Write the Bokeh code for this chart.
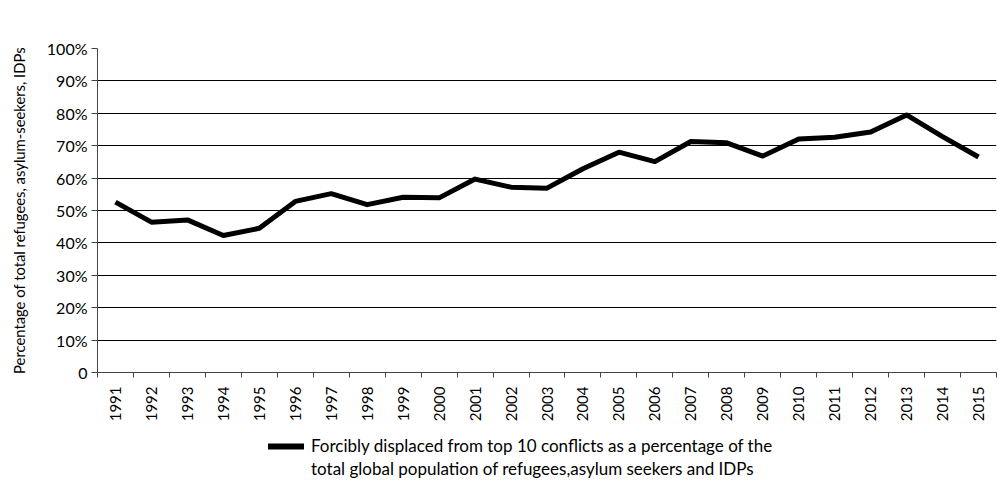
from bokeh.plotting import figure
from bokeh.layouts import column
from bokeh.models import Range1d, FixedTicker, PrintfTickFormatter, Legend, LegendItem
from bokeh.embed import file_html
from bokeh.resources import INLINE

years = list(range(1991, 2016))
year_labels = [str(y) for y in years]
share_pct = [52.6, 46.4, 47.1, 42.3, 44.5, 52.8, 55.2, 51.8, 54.1, 53.9,
             59.7, 57.2, 56.9, 62.9, 68.0, 65.1, 71.3, 70.9, 66.8, 72.1,
             72.6, 74.2, 79.5, 72.8, 66.5]
y_ticks = [0, 10, 20, 30, 40, 50, 60, 70, 80, 90, 100]
series_label_1 = "Forcibly displaced from top 10 conflicts as a percentage of the"
series_label_2 = "total global population of refugees,asylum seekers and IDPs"
y_title = "Percentage of total refugees, asylum-seekers, IDPs"

FONT = "Lato"

p = figure(width=999, height=424, output_backend="svg", toolbar_location=None,
           x_range=Range1d(years[0] - 0.5, years[-1] + 0.5),
           y_range=Range1d(0, 100),
           min_border_left=97, min_border_right=3, min_border_top=48,
           min_border_bottom=52)
p.outline_line_color = None
p.background_fill_color = "white"

r = p.line(years, share_pct, line_color="black", line_width=5, line_join="round")

# x axis: labels at category centres, tick marks at boundaries
xa = p.xaxis[0]
xa.ticker = FixedTicker(ticks=years, minor_ticks=[y - 0.5 for y in years] + [years[-1] + 0.5])
xa.major_label_overrides = {y: s for y, s in zip(years, year_labels)}
xa.major_tick_out = 0
xa.major_tick_in = 0
xa.minor_tick_out = 5
xa.minor_tick_in = 0
xa.minor_tick_line_color = "#444444"
xa.axis_line_color = "#444444"
xa.major_label_orientation = 1.5708
xa.major_label_text_font = FONT
xa.major_label_text_font_size = "15px"
xa.major_label_text_color = "black"
xa.major_label_standoff = 9

ya = p.yaxis[0]
ya.ticker = FixedTicker(ticks=y_ticks, minor_ticks=[])
ya.formatter = PrintfTickFormatter(format="%d%%")
ya.major_label_overrides = {0: "0"}
ya.major_tick_out = 6
ya.major_tick_in = 0
ya.major_tick_line_color = "#444444"
ya.axis_line_color = "#444444"
ya.major_label_text_font = FONT
ya.major_label_text_font_size = "16px"
ya.major_label_text_color = "black"
ya.major_label_standoff = 4
ya.axis_label = y_title
ya.axis_label_text_font = FONT
ya.axis_label_text_font_size = "14.8px"
ya.axis_label_text_font_style = "normal"
ya.axis_label_text_color = "black"
ya.axis_label_standoff = 16

p.xgrid.grid_line_color = None
p.ygrid.ticker = FixedTicker(ticks=y_ticks[1:])
p.ygrid.grid_line_color = "black"
p.ygrid.grid_line_width = 1

# legend strip below the chart (its data lies outside its empty view)
lg = figure(width=999, height=59, output_backend="svg", toolbar_location=None,
            x_axis_type=None, y_axis_type=None, min_border=0,
            x_range=Range1d(0, 1), y_range=Range1d(0, 1))
lg.outline_line_color = None
lg.grid.visible = False
key = lg.line(years, share_pct, line_color="black", line_width=6, line_cap="round")
blank = lg.line(years, share_pct, line_alpha=0)
legend = Legend(items=[LegendItem(label=series_label_1, renderers=[key]),
                       LegendItem(label=series_label_2, renderers=[blank])],
                location=(171, 4), orientation="vertical",
                background_fill_alpha=0, border_line_color=None,
                label_text_font=FONT, label_text_font_size="17px",
                label_text_color="black", glyph_width=36, glyph_height=18,
                label_height=18, label_standoff=7, padding=0, margin=0,
                spacing=2)
lg.add_layout(legend, "center")

layout = column(p, lg, spacing=0)
open("out.html", "w").write(file_html(layout, INLINE))
